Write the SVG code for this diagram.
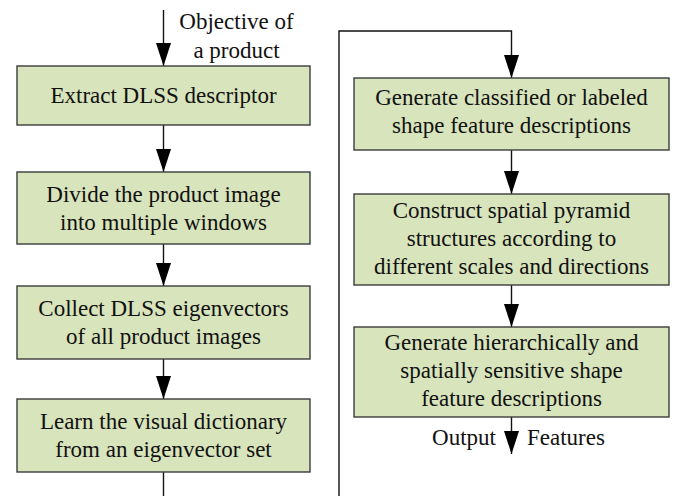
<svg xmlns="http://www.w3.org/2000/svg" width="674" height="496" viewBox="0 0 674 496">
  <style>
    .box { fill: #d8e4bc; stroke: #3c3c3c; stroke-width: 1.4; }
    text { font-family: 'Liberation Serif', Tinos, 'Nimbus Roman', 'Times New Roman', 'DejaVu Serif', serif; font-size: 23px; fill: #111; }
    .lbl { text-anchor: middle; }
    .wire { fill: none; stroke: #111; stroke-width: 1.4; }
  </style>
  <defs>
    <marker id="arrow" markerUnits="userSpaceOnUse" viewBox="0 -7.5 23 15" refX="23" refY="0" markerWidth="23" markerHeight="15" orient="auto">
      <path d="M0,-7.5 L23,0 L0,7.5 Z" fill="#000"/>
    </marker>
  </defs>

  <rect width="674" height="496" fill="#fff"/>

  <!-- connectors -->
  <g id="connectors">
    <path class="wire" d="M163.5,10 V66" marker-end="url(#arrow)"/>
    <path class="wire" d="M163.5,125 V172" marker-end="url(#arrow)"/>
    <path class="wire" d="M163.5,244 V286" marker-end="url(#arrow)"/>
    <path class="wire" d="M163.5,359 V399" marker-end="url(#arrow)"/>
    <path class="wire" d="M163.5,472 V496"/>
    <path class="wire" d="M339,496 V31 H511.5 V78" marker-end="url(#arrow)"/>
    <path class="wire" d="M511.5,150 V194" marker-end="url(#arrow)"/>
    <path class="wire" d="M511.5,285 V327" marker-end="url(#arrow)"/>
    <path class="wire" d="M511.5,417 V454" marker-end="url(#arrow)"/>
    <text class="lbl" x="236.5" y="29">Objective of</text>
    <text class="lbl" x="236.5" y="58">a product</text>
    <text x="496" y="445" text-anchor="end">Output</text>
    <text x="527" y="445">Features</text>
  </g>

  <!-- left column -->
  <g id="extract">
    <rect class="box" x="17" y="66" width="293" height="59"/>
    <text class="lbl" x="163.5" y="103">Extract DLSS descriptor</text>
  </g>
  <g id="divide">
    <rect class="box" x="17" y="172" width="293" height="72"/>
    <text class="lbl" x="163.5" y="202">Divide the product image</text>
    <text class="lbl" x="163.5" y="230">into multiple windows</text>
  </g>
  <g id="collect">
    <rect class="box" x="17" y="286" width="293" height="73"/>
    <text class="lbl" x="163.5" y="316">Collect DLSS eigenvectors</text>
    <text class="lbl" x="163.5" y="344">of all product images</text>
  </g>
  <g id="learn">
    <rect class="box" x="17" y="399" width="293" height="73"/>
    <text class="lbl" x="163.5" y="429">Learn the visual dictionary</text>
    <text class="lbl" x="163.5" y="457">from an eigenvector set</text>
  </g>

  <!-- right column -->
  <g id="classified">
    <rect class="box" x="354" y="78" width="315" height="72"/>
    <text class="lbl" x="511.5" y="105">Generate classified or labeled</text>
    <text class="lbl" x="511.5" y="133">shape feature descriptions</text>
  </g>
  <g id="pyramid">
    <rect class="box" x="354" y="194" width="315" height="91"/>
    <text class="lbl" x="511.5" y="218">Construct spatial pyramid</text>
    <text class="lbl" x="511.5" y="246">structures according to</text>
    <text class="lbl" x="511.5" y="274">different scales and directions</text>
  </g>
  <g id="hierarchical">
    <rect class="box" x="354" y="327" width="315" height="90"/>
    <text class="lbl" x="511.5" y="350">Generate hierarchically and</text>
    <text class="lbl" x="511.5" y="378">spatially sensitive shape</text>
    <text class="lbl" x="511.5" y="406">feature descriptions</text>
  </g>
</svg>
